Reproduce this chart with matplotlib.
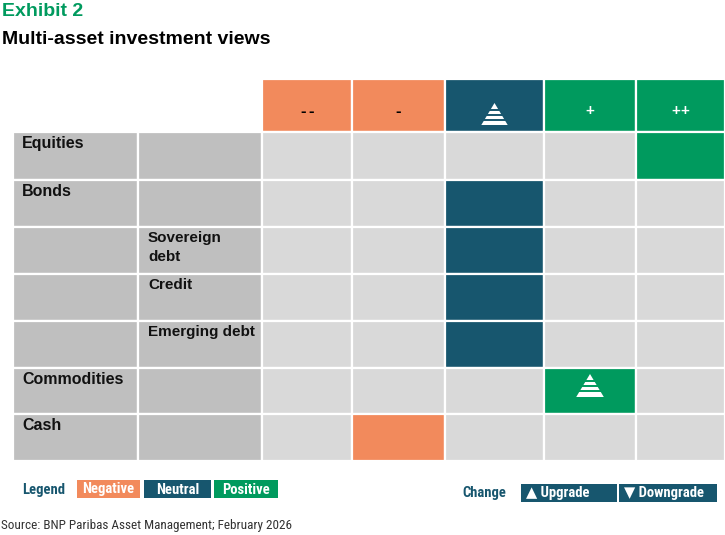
import matplotlib
matplotlib.use("Agg")
import matplotlib.pyplot as plt
from matplotlib import font_manager
from matplotlib.patches import Rectangle, Polygon

# ---- data ----
view_labels = ["--", "-", "=", "+", "++"]
asset_classes = ["Equities", "Bonds", "", "", "", "Commodities", "Cash"]
sub_assets = ["", "", "Sovereign\ndebt", "Credit", "Emerging debt", "", ""]
views = [2, 0, 0, 0, 0, 1, -1]          # -2 .. +2
changes = [0, 0, 0, 0, 0, 1, 0]         # 1 = upgrade, -1 = downgrade
legend_views = ["Negative", "Neutral", "Positive"]
legend_changes = ["\u25B2 Upgrade", "\u25BC Downgrade"]

# ---- style ----
ORANGE = "#F28A5C"
TEAL = "#17566E"
GREEN = "#009A5E"
LIGHT = "#D9D9D9"
LABEL_GREY = "#BFBFBF"
view_colors = {-2: ORANGE, -1: ORANGE, 0: TEAL, 1: GREEN, 2: GREEN}

available = {f.name for f in font_manager.fontManager.ttflist}
def pick(*names):
    for n in names:
        if n in available:
            return n
    return "DejaVu Sans"

MAIN = pick("Liberation Sans", "Arimo", "DejaVu Sans")
NARROW = pick("Liberation Sans Narrow", "DejaVu Sans Condensed", "Roboto Condensed", MAIN)

# layout (pixel grid, figure is 725 x 535)
col_edges = [13, 138, 262, 352, 445, 544, 636, 725]
row_edges = [79, 132, 180, 227, 274, 321, 368, 414, 461]

fig = plt.figure(figsize=(7.25, 5.35), dpi=100)
ax = fig.add_axes([0, 0, 1, 1])
ax.set_xlim(0, 725)
ax.set_ylim(535, 0)
ax.axis("off")


def cell(c, r, color):
    x0, x1 = col_edges[c], col_edges[c + 1]
    y0, y1 = row_edges[r], row_edges[r + 1]
    ax.add_patch(Rectangle((x0, y0), x1 - x0, y1 - y0, facecolor=color,
                           edgecolor="white", linewidth=1.6))
    return x0, x1, y0, y1


def triangle(cx, top, bottom, color):
    w = (bottom - top) * 1.2
    ax.add_patch(Polygon([(cx - w / 2, bottom), (cx + w / 2, bottom), (cx, top)],
                         closed=True, facecolor="white", edgecolor="none"))
    h = bottom - top
    for k in (0.3, 0.53, 0.76):
        y = top + h * k
        ax.plot([cx - w / 2, cx + w / 2], [y, y], color=color, lw=1.4)


# header row
for i, lab in enumerate(view_labels):
    val = i - 2
    x0, x1, y0, y1 = cell(i + 2, 0, view_colors[val])
    cx = (x0 + x1) / 2
    if val == 0:
        triangle(cx, y0 + 24, y1 - 7, TEAL)
        continue
    step = 8.5
    start = cx - step * (len(lab) - 1) / 2
    for k, ch in enumerate(lab):
        ax.text(start + k * step, (y0 + y1) / 2 + 6, ch, ha="center",
                va="center", fontsize=12 if ch == "-" else 11,
                fontweight="bold", family=MAIN,
                color="black" if val < 0 else "white")

# body rows
for r, (name, sub, v, ch) in enumerate(zip(asset_classes, sub_assets, views, changes)):
    row = r + 1
    x0, x1, y0, y1 = cell(0, row, LABEL_GREY)
    if name:
        ax.text(x0 + 9, y0 + 4, name, ha="left", va="top", fontsize=11.5,
                fontweight="bold", family=MAIN, color="#111111")
    x0, x1, y0, y1 = cell(1, row, LABEL_GREY)
    if sub:
        ax.text(x0 + 10, y0 + 4, sub, ha="left", va="top", fontsize=11,
                fontweight="bold", family=MAIN, color="#111111", linespacing=1.45)
    for i in range(len(view_labels)):
        val = i - 2
        color = view_colors[val] if val == v else LIGHT
        x0, x1, y0, y1 = cell(i + 2, row, color)
        if val == v and ch == 1:
            triangle((x0 + x1) / 2, y0 + 6, y0 + 29, color)

# title
ax.text(2, 12, "Exhibit 2", ha="left", va="center", fontsize=14,
        fontweight="bold", family=MAIN, color=GREEN)
ax.text(2, 39, "Multi-asset investment views", ha="left", va="center",
        fontsize=14, fontweight="bold", family=MAIN, color="black")

# legend: views
ax.text(22, 490, "Legend", ha="left", va="center", fontsize=10.5,
        fontweight="bold", family=NARROW, color=TEAL)
box_x = [(77, 140), (144, 211), (214, 278)]
for (bx0, bx1), lab, col in zip(box_x, legend_views, [ORANGE, TEAL, GREEN]):
    ax.add_patch(Rectangle((bx0, 480), bx1 - bx0, 18, facecolor=col,
                           edgecolor="none"))
    ax.text((bx0 + bx1) / 2, 489.5, lab, ha="center", va="center",
            fontsize=10.5, fontweight="bold", family=NARROW, color="white")

# legend: changes
ax.text(462, 493, "Change", ha="left", va="center", fontsize=10.5,
        fontweight="bold", family=NARROW, color=TEAL)
box_x = [(521, 617), (619, 717)]
for (bx0, bx1), lab in zip(box_x, legend_changes):
    ax.add_patch(Rectangle((bx0, 484), bx1 - bx0, 18, facecolor=TEAL,
                           edgecolor="none"))
    ax.text(bx0 + 5, 493.5, lab, ha="left", va="center", fontsize=10.5,
            fontweight="bold", family=[NARROW, "DejaVu Sans"], color="white")

# source
ax.text(1, 526, "Source: BNP Paribas Asset Management; February 2026",
        ha="left", va="center", fontsize=9.5, family=NARROW, color="#333333")

fig.savefig("out.png", dpi=100)
